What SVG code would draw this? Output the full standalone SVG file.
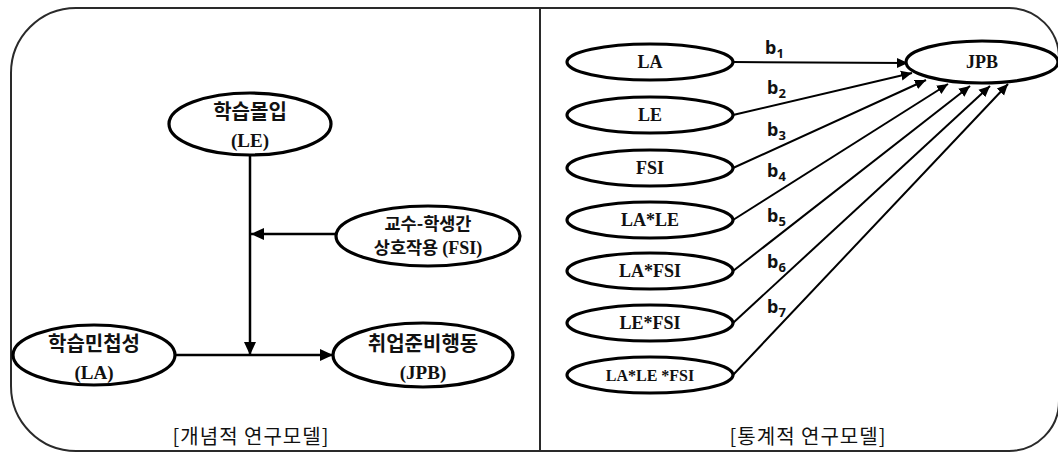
<svg xmlns="http://www.w3.org/2000/svg" width="1058" height="452" viewBox="0 0 1058 452">
  <defs>
    <marker id="arrL" markerUnits="userSpaceOnUse" markerWidth="14" markerHeight="14" viewBox="0 0 14 14" refX="13" refY="7" orient="auto">
      <path d="M0,1 L13,7 L0,13 Z" fill="#000"/>
    </marker>
    <marker id="arrR" markerUnits="userSpaceOnUse" markerWidth="12" markerHeight="12" viewBox="0 0 12 12" refX="11" refY="6" orient="auto">
      <path d="M0,1 L11,6 L0,11 Z" fill="#000"/>
    </marker>
    <style>
      .frame { fill: none; stroke: #2a2a2a; stroke-width: 2; }
      .node { fill: #fff; stroke: #000; stroke-width: 3.2; }
      .kr { font-family: "Noto Sans CJK KR", sans-serif; font-weight: bold; font-size: 20px; fill: #111; text-anchor: middle; }
      .kr16 { font-family: "Noto Sans CJK KR", sans-serif; font-weight: bold; font-size: 17.5px; fill: #111; text-anchor: middle; }
      .ser { font-family: "Liberation Serif", "Times New Roman", serif; font-weight: bold; font-size: 19px; fill: #111; text-anchor: middle; }
      .serR { font-family: "Liberation Serif", "Times New Roman", serif; font-weight: bold; font-size: 18px; fill: #111; text-anchor: middle; }
      .serS { font-family: "Liberation Serif", "Times New Roman", serif; font-weight: bold; font-size: 16px; fill: #111; text-anchor: middle; }
      .cap { font-family: "Noto Sans CJK KR", sans-serif; font-size: 20px; letter-spacing: 1px; fill: #111; text-anchor: middle; }
      .b { font-family: "Noto Sans", "Noto Sans CJK KR", sans-serif; font-weight: bold; font-size: 18px; fill: #111; }
      .conL { stroke: #000; stroke-width: 2.5; fill: none; }
      .conR { stroke: #000; stroke-width: 2; fill: none; }
    </style>
  </defs>

  <g id="frame">
    <path class="frame" d="M 76 8 H 1009 A 50 50 0 0 1 1059 58 V 401 A 50 50 0 0 1 1009 451 H 76 A 65 65 0 0 1 11 386 V 73 A 65 65 0 0 1 76 8 Z"/>
    <line class="frame" x1="540" y1="8" x2="540" y2="451"/>
  </g>

  <g id="connectors">
    <line class="conL" x1="250" y1="155" x2="250" y2="355" marker-end="url(#arrL)"/>
    <line class="conL" x1="336" y1="234" x2="251" y2="234" marker-end="url(#arrL)"/>
    <line class="conL" x1="175" y1="355" x2="333" y2="355" marker-end="url(#arrL)"/>

    <line class="conR" x1="733" y1="62" x2="908" y2="63" marker-end="url(#arrR)"/>
    <line class="conR" x1="733" y1="115" x2="912" y2="73" marker-end="url(#arrR)"/>
    <line class="conR" x1="733" y1="168" x2="926" y2="80" marker-end="url(#arrR)"/>
    <line class="conR" x1="733" y1="220" x2="948" y2="84" marker-end="url(#arrR)"/>
    <line class="conR" x1="733" y1="271" x2="970" y2="86" marker-end="url(#arrR)"/>
    <line class="conR" x1="733" y1="323" x2="990" y2="86" marker-end="url(#arrR)"/>
    <line class="conR" x1="733" y1="375" x2="1008" y2="84" marker-end="url(#arrR)"/>
  </g>

  <g id="labels-b">
    <text class="b" x="765" y="54">b<tspan font-size="13" dy="4">1</tspan></text>
    <text class="b" x="767" y="94">b<tspan font-size="13" dy="4">2</tspan></text>
    <text class="b" x="767" y="136">b<tspan font-size="13" dy="4">3</tspan></text>
    <text class="b" x="767" y="177">b<tspan font-size="13" dy="4">4</tspan></text>
    <text class="b" x="767" y="222">b<tspan font-size="13" dy="4">5</tspan></text>
    <text class="b" x="767" y="268">b<tspan font-size="13" dy="4">6</tspan></text>
    <text class="b" x="767" y="313">b<tspan font-size="13" dy="4">7</tspan></text>
  </g>

  <g id="node-LE">
    <ellipse class="node" cx="250" cy="124" rx="81" ry="31"/>
    <text class="kr" x="250" y="119">학습몰입</text>
    <text class="ser" x="250" y="147">(LE)</text>
  </g>
  <g id="node-FSI">
    <ellipse class="node" cx="428" cy="236" rx="92" ry="30"/>
    <text class="kr16" x="428" y="230">교수-학생간</text>
    <text class="kr16" x="428" y="254">상호작용 <tspan font-family="Liberation Serif, serif" font-size="18">(FSI)</tspan></text>
  </g>
  <g id="node-LA">
    <ellipse class="node" cx="94" cy="355" rx="81" ry="30"/>
    <text class="kr" x="94" y="351">학습민첩성</text>
    <text class="ser" x="94" y="379">(LA)</text>
  </g>
  <g id="node-JPB">
    <ellipse class="node" cx="423" cy="355" rx="90" ry="32"/>
    <text class="kr" x="423" y="351">취업준비행동</text>
    <text class="ser" x="423" y="379">(JPB)</text>
  </g>
  <text class="cap" x="251" y="444">[개념적 연구모델]</text>

  <g id="r-LA">
    <ellipse class="node" cx="650" cy="62" rx="83" ry="18"/>
    <text class="serR" x="650" y="68">LA</text>
  </g>
  <g id="r-LE">
    <ellipse class="node" cx="650" cy="115" rx="83" ry="18"/>
    <text class="serR" x="650" y="121">LE</text>
  </g>
  <g id="r-FSI">
    <ellipse class="node" cx="650" cy="168" rx="83" ry="18"/>
    <text class="serR" x="650" y="174">FSI</text>
  </g>
  <g id="r-LALE">
    <ellipse class="node" cx="650" cy="220" rx="83" ry="18"/>
    <text class="serR" x="650" y="226">LA*LE</text>
  </g>
  <g id="r-LAFSI">
    <ellipse class="node" cx="650" cy="271" rx="83" ry="18"/>
    <text class="serR" x="650" y="277">LA*FSI</text>
  </g>
  <g id="r-LEFSI">
    <ellipse class="node" cx="650" cy="323" rx="83" ry="18"/>
    <text class="serR" x="650" y="329">LE*FSI</text>
  </g>
  <g id="r-LALEFSI">
    <ellipse class="node" cx="650" cy="375" rx="83" ry="18"/>
    <text class="serS" x="650" y="381">LA*LE *FSI</text>
  </g>
  <g id="r-JPB">
    <ellipse class="node" cx="982" cy="62" rx="76" ry="21"/>
    <text class="serR" x="982" y="68">JPB</text>
  </g>
  <text class="cap" x="808" y="444">[통계적 연구모델]</text>
</svg>
